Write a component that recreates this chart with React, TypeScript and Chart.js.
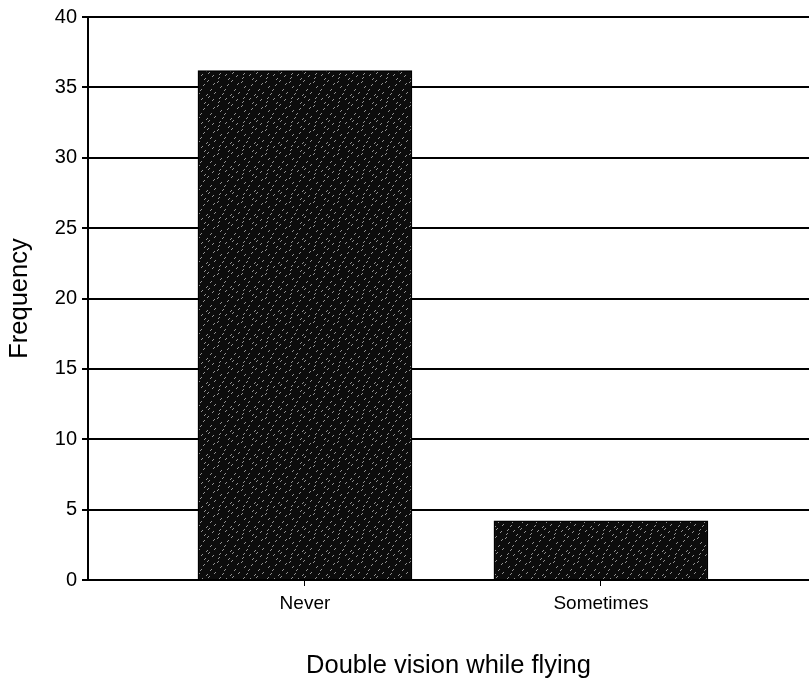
import React, { useEffect, useRef } from 'react';
import { Chart, registerables } from 'chart.js';

Chart.register(...registerables);

const categories: string[] = ['Never', 'Sometimes'];
const frequencies: number[] = [36.2, 4.2];
const yTickValues: number[] = [0, 5, 10, 15, 20, 25, 30, 35, 40];
const xTitle = 'Double vision while flying';
const yTitle = 'Frequency';

const FONT = "'Liberation Sans', Arial, sans-serif";

function makePattern(): CanvasPattern | string {
  const c = document.createElement('canvas');
  c.width = 24;
  c.height = 24;
  const g = c.getContext('2d');
  if (!g) return '#151515';
  g.fillStyle = '#0c0c0c';
  g.fillRect(0, 0, 24, 24);
  g.strokeStyle = 'rgba(180,180,180,0.8)';
  g.lineWidth = 1;
  const marks = [
    [2, 5], [9, 2], [15, 8], [20, 3], [4, 14], [11, 12], [18, 17], [6, 21], [14, 22], [21, 11], [1, 9], [16, 0],
    [8, 17], [12, 6], [22, 20], [3, 1],
  ];
  for (const [x, y] of marks) {
    g.beginPath();
    g.moveTo(x, y + 2);
    g.lineTo(x + 2, y);
    g.stroke();
  }
  const p = g.createPattern(c, 'repeat');
  return p || '#151515';
}

export default function App() {
  const ref = useRef<HTMLCanvasElement | null>(null);

  useEffect(() => {
    if (!ref.current) return;
    const pattern = makePattern();
    const chart = new Chart(ref.current, {
      type: 'bar',
      data: {
        datasets: [
          {
            data: categories.map((_, i) => ({ x: i, y: frequencies[i] })),
            backgroundColor: pattern as any,
            borderColor: '#000',
            borderWidth: 1.5,
            barThickness: 214,
          },
        ],
      },
      options: {
        animation: false,
        responsive: true,
        maintainAspectRatio: false,
        layout: { padding: { top: 14, right: 0, left: 0, bottom: 0 } },
        plugins: { legend: { display: false }, tooltip: { enabled: false } },
        scales: {
          x: {
            type: 'linear',
            min: -0.733,
            max: 1.703,
            offset: false,
            afterBuildTicks: (s: any) => {
              s.ticks = categories.map((_, i) => ({ value: i }));
            },
            afterFit: (s: any) => {
              s.height = 103;
            },
            grid: { offset: false, drawOnChartArea: false, drawTicks: true, tickLength: 6, color: '#000', lineWidth: 1 },
            border: { display: true, color: '#000', width: 2 },
            ticks: {
              callback: (v: any) => categories[v] ?? '',
              color: '#000',
              font: { family: FONT, size: 19 },
              padding: 6,
              maxRotation: 0,
              autoSkip: false,
            },
            title: {
              display: true,
              text: xTitle,
              color: '#000',
              font: { family: FONT, size: 25.5 },
              padding: { top: 0, bottom: 2 },
            },
          },
          y: {
            min: 0,
            max: 40,
            afterBuildTicks: (s: any) => {
              s.ticks = yTickValues.map((v) => ({ value: v }));
            },
            afterFit: (s: any) => {
              s.width = 88;
            },
            grid: { color: '#000', lineWidth: 2, drawTicks: true, tickLength: 6 },
            border: { display: true, color: '#000', width: 2 },
            ticks: {
              color: '#000',
              font: { family: FONT, size: 20 },
              padding: 5,
            },
            title: {
              display: true,
              text: yTitle,
              color: '#000',
              font: { family: FONT, size: 25.5 },
              padding: { top: 5, bottom: 0 },
            },
          },
        },
      },
    });
    return () => chart.destroy();
  }, []);

  return (
    <div style={{ position: 'fixed', left: 0, top: 0, width: 809, height: 683, background: '#fff' }}>
      <canvas ref={ref} />
    </div>
  );
}
